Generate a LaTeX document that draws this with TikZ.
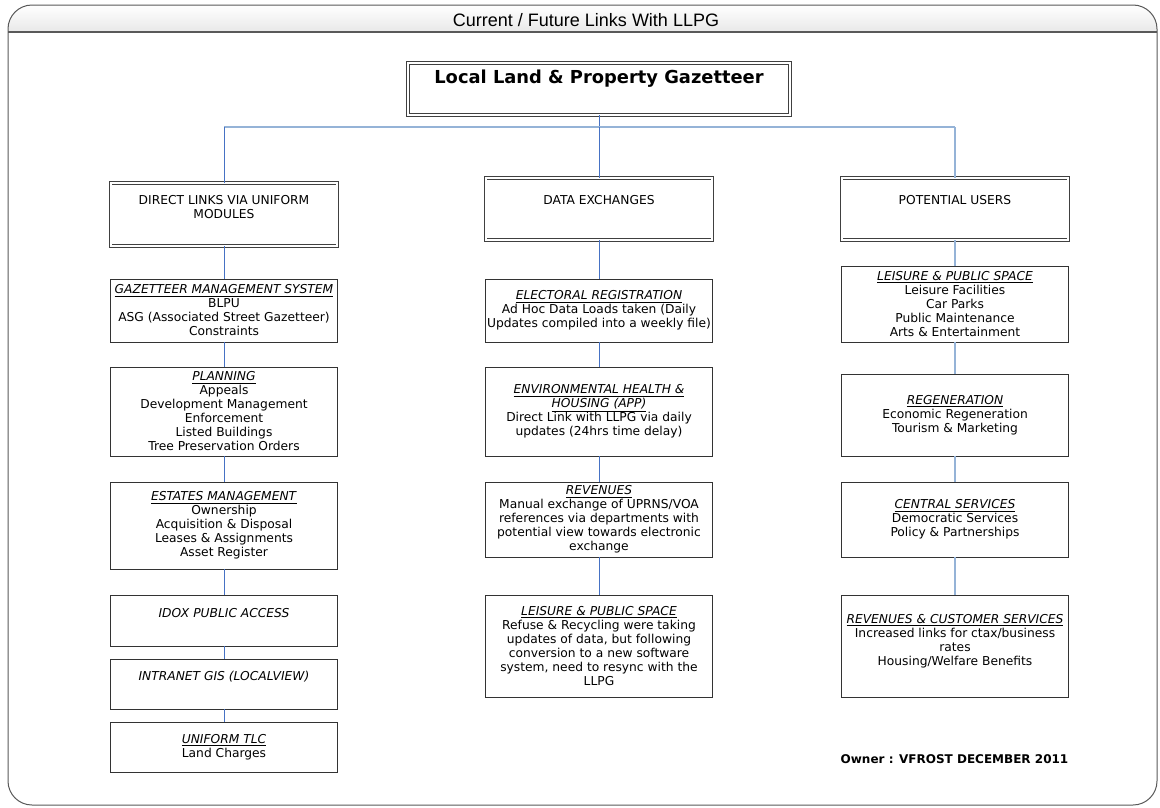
\documentclass[tikz,border=0pt]{standalone}
\usepackage{fontspec}
\setmainfont{DejaVu Sans}
\newfontfamily\titlefont{Liberation Sans}
\usetikzlibrary{positioning}
\definecolor{linkblue}{RGB}{70,114,196}
\definecolor{softblue}{RGB}{149,179,215}
\tikzset{
    unit/.style={
        draw=black!80,
        fill=white,
        line width=0.6pt,
        align=center,
        inner ysep=1pt,
        inner xsep=1pt,
        minimum width=170pt,
        font=\fontsize{9.2}{10.5}\selectfont
    },
    group/.style={
        unit,
        draw=black!75,
        double=white,
        double distance=1.5pt
    },
    link/.style={draw=linkblue, line width=0.75pt},
    softlink/.style={draw=softblue, line width=1.5pt},
    textup/.style={text depth=#1}
}
\newcommand{\hd}[1]{\underline{\textit{#1}}}

\begin{document}
\begin{tikzpicture}[x=0.75pt,y=-0.75pt]
  \useasboundingbox (0,0) rectangle (1160,807);
  \begin{scope}
    \clip[rounded corners=18pt] (8,5) rectangle (1157,805);
    \shade[top color=white, bottom color=black!9] (8,5) rectangle (1157,32);
  \end{scope}
  \draw[black!65, line width=0.75pt, rounded corners=18pt] (8,5) rectangle (1157,805);
  \draw[black!65, line width=1.5pt] (8,32) -- (1157,32);
  \node[font=\titlefont\fontsize{13.5}{15}\selectfont] (H) at (586,20) {Current / Future Links With LLPG};

  \node[group, minimum width=286.5pt, minimum height=39pt, textup=18pt,
        font=\bfseries\fontsize{13.4}{16}\selectfont] (L) at (599,89) {Local Land \& Property Gazetteer};

  \node[group, minimum height=47.25pt, textup=12pt] (D) at (224,214.5) {DIRECT LINKS VIA UNIFORM\\MODULES};
  \node[group, minimum height=46.5pt, textup=13.5pt] (X) at (599,209) {DATA EXCHANGES};
  \node[group, minimum height=46.5pt, textup=13.5pt] (P) at (955,209) {POTENTIAL USERS};

  \node[unit, minimum height=47.25pt] (D1) at (224,310.5) {\hd{GAZETTEER MANAGEMENT SYSTEM}\\BLPU\\ASG (Associated Street Gazetteer)\\Constraints};
  \node[unit, minimum height=66.75pt] (D2) at (224,411.5) {\hd{PLANNING}\\Appeals\\Development Management\\Enforcement\\Listed Buildings\\Tree Preservation Orders};
  \node[unit, minimum height=65.25pt] (D3) at (224,525.5) {\hd{ESTATES MANAGEMENT}\\Ownership\\Acquisition \& Disposal\\Leases \& Assignments\\Asset Register};
  \node[unit, minimum height=38.25pt, textup=11pt] (D4) at (224,620.5) {\textit{IDOX PUBLIC ACCESS}};
  \node[unit, minimum height=37.5pt, textup=12pt] (D5) at (224,684) {\textit{INTRANET GIS (LOCALVIEW)}};
  \node[unit, minimum height=37.5pt] (D6) at (224,747) {\hd{UNIFORM TLC}\\Land Charges};

  \node[unit, minimum height=47.25pt] (X1) at (599,310.5) {\hd{ELECTORAL REGISTRATION}\\Ad Hoc Data Loads taken (Daily\\Updates compiled into a weekly file)};
  \node[unit, minimum height=66.75pt] (X2) at (599,411.5) {\hd{ENVIRONMENTAL HEALTH \&}\\\hd{HOUSING (APP)}\\Direct Link with LLPG via daily\\updates (24hrs time delay)};
  \node[unit, minimum height=56.25pt] (X3) at (599,519.5) {\hd{REVENUES}\\Manual exchange of UPRNS/VOA\\references via departments with\\potential view towards electronic\\exchange};
  \node[unit, minimum height=76.5pt] (X4) at (599,646) {\hd{LEISURE \& PUBLIC SPACE}\\Refuse \& Recycling were taking\\updates of data, but following\\conversion to a new software\\system, need to resync with the\\LLPG};

  \node[unit, minimum height=57pt] (P1) at (955,304) {\hd{LEISURE \& PUBLIC SPACE}\\Leisure Facilities\\Car Parks\\Public Maintenance\\Arts \& Entertainment};
  \node[unit, minimum height=61.5pt] (P2) at (955,415) {\hd{REGENERATION}\\Economic Regeneration\\Tourism \& Marketing};
  \node[unit, minimum height=56.25pt] (P3) at (955,519.5) {\hd{CENTRAL SERVICES}\\Democratic Services\\Policy \& Partnerships};
  \node[unit, minimum height=76.5pt, textup=9pt] (P4) at (955,646) {\hd{REVENUES \& CUSTOMER SERVICES}\\Increased links for ctax/business\\rates\\Housing/Welfare Benefits};

  \node[font=\bfseries\fontsize{9}{11}\selectfont] (O) at (954.5,759) {Owner : VFROST DECEMBER 2011};

  \coordinate (B) at (599,127);
  \coordinate (B1) at (224,127);
  \coordinate (B3) at (955,127);
  \draw[link] (L) -- (B);
  \draw[softlink] (B1) -- (B3);
  \draw[link] (B1) -- (D);
  \draw[link] (B) -- (X);
  \draw[softlink] (B3) -- (P);
  \foreach \a/\b in {D/D1,D1/D2,D2/D3,D3/D4,D4/D5,D5/D6,X/X1,X1/X2,X2/X3,X3/X4}
    \draw[link] (\a) -- (\b);
  \foreach \a/\b in {P/P1,P1/P2,P2/P3,P3/P4}
    \draw[softlink] (\a) -- (\b);

\end{tikzpicture}
\end{document}
